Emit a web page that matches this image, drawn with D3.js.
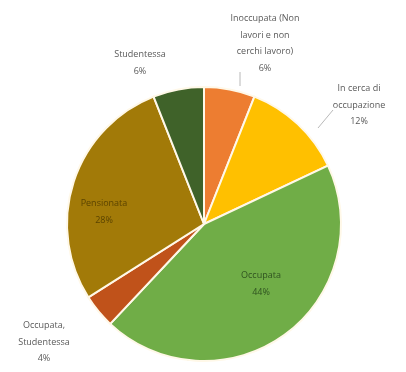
<!DOCTYPE html>
<html><head><meta charset="utf-8">
<script src="https://cdn.jsdelivr.net/npm/d3@7"></script>
<style>body{margin:0;background:#fff}svg{display:block;filter:blur(0.5px)}</style>
</head><body><svg id="c" width="406" height="372"></svg>
<script>
const categories = ["Inoccupata (Non lavori e non cerchi lavoro)", "In cerca di occupazione", "Occupata", "Occupata, Studentessa", "Pensionata", "Studentessa"];
const values = [6, 12, 44, 4, 28, 6];
const valueLabels = ["6%", "12%", "44%", "4%", "28%", "6%"];
const colors = ["#ED7D31", "#FFC000", "#70AD47", "#C0521A", "#A27A08", "#3F6229"];
// label lines per category
const labelLines = [["Inoccupata (Non", "lavori e non", "cerchi lavoro)"], ["In cerca di", "occupazione"], ["Occupata"], ["Occupata,", "Studentessa"], ["Pensionata"], ["Studentessa"]];
const labelPos = [[265, 18], [359, 88], [261, 275], [44, 325], [104, 203], [140, 54]];
const inside = [false, false, true, false, true, false];

const svg = d3.select("#c");
const cx = 204, cy = 224, r = 137;
const pie = d3.pie().sort(null).value(d => d)(values);
const arc = d3.arc().innerRadius(0).outerRadius(r);
const g = svg.append("g").attr("transform", `translate(${cx},${cy})`);
g.selectAll("path").data(pie).join("path")
  .attr("d", arc).attr("fill", (d, i) => colors[i])
  .attr("stroke", "#FFF8E8").attr("stroke-width", 2);

// leader lines
const leaders = [[[240, 72], [240, 86]], [[333, 110], [318, 128]]];
leaders.forEach(l => svg.append("polyline").attr("points", l.map(p => p.join(",")).join(" "))
  .attr("fill", "none").attr("stroke", "#A6A6A6").attr("stroke-width", 0.8));

const lh = 16.5;
categories.forEach((c, i) => {
  const [x, y] = labelPos[i];
  const t = svg.append("text").attr("text-anchor", "middle")
    .attr("font-family", "Open Sans, Liberation Sans, sans-serif").attr("font-size", 9)
    .attr("fill", inside[i] ? (i === 2 ? "#2F5220" : "#5A4300") : "#595959");
  labelLines[i].concat([valueLabels[i]]).forEach((s, k) => {
    t.append("tspan").attr("x", x).attr("y", y + k * lh + 3).text(s);
  });
});
</script></body></html>
